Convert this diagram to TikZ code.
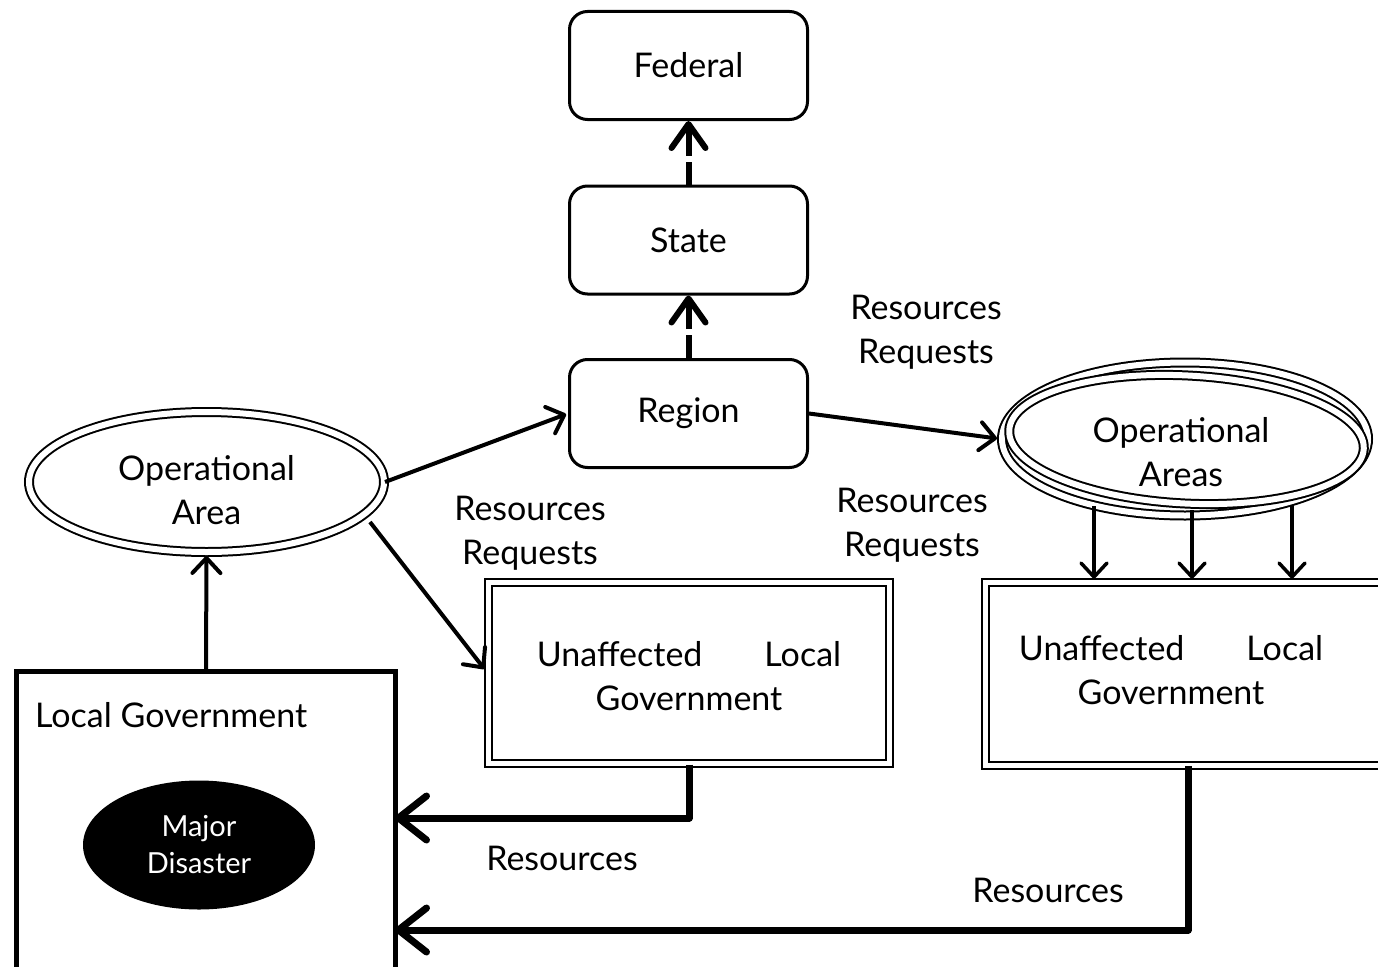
\documentclass[tikz,border=0pt]{standalone}
\usepackage{fontspec}
\setmainfont{Lato}
\usetikzlibrary{shapes.geometric,arrows.meta,calc}
\begin{document}
\begin{tikzpicture}[x=1pt,y=-1pt,
  txt/.style={font=\fontsize{34}{44}\selectfont, align=center, inner sep=0pt},
  rbox/.style={draw, line width=3pt, rounded corners=18pt, minimum width=238pt, minimum height=108pt, inner sep=0pt, font=\fontsize{34}{44}\selectfont},
  oval/.style={draw, ellipse, double, line width=2pt, double distance=6pt, inner sep=0pt},
  dbox/.style={draw, double, line width=2pt, double distance=5pt, inner sep=0pt},
  tarrow/.style={line width=4pt, -{Straight Barb[length=15pt, width=28pt, line cap=round, line join=round]}},
  varrow/.style={line width=3.5pt, -{Straight Barb[length=14pt, width=26pt, line cap=round, line join=round]}},
  darrow/.style={line width=6pt, -{Straight Barb[length=24pt, width=34pt, line cap=round, line join=round]}},
  barrow/.style={line width=7pt, line join=round, -{Straight Barb[length=28pt, width=44pt, line cap=round, line join=round]}},
]
\useasboundingbox (0,0) rectangle (1378,966);

% top hierarchy
\node[rbox] (federal) at (688.5,65.5) {Federal};
\node[rbox] (state) at (688.5,240) {State};
\node[rbox] (region) at (688.5,413.5) {Region};

% dashed thick up arrows
\coordinate (sg) at ($(state.north)+(0,-23)$);
\coordinate (rg) at ($(region.north)+(0,-23)$);
\draw[line width=6pt] (state.north) -- (sg);
\draw[darrow] ($(sg)+(0,-6)$) -- (federal.south);
\draw[line width=6pt] (region.north) -- (rg);
\draw[darrow] ($(rg)+(0,-6)$) -- (state.south);

% operational area (left)
\node[oval, minimum width=355pt, minimum height=140pt] (oa) at (206.5,482) {};
\node[txt] (oat) at (206.5,490) {Operational\\Area};

% operational areas (right)
\node[oval, minimum width=366pt, minimum height=153pt] (opas) at (1185,439) {};
\node[oval, minimum width=355pt, minimum height=128pt, rotate=-3] (opasb) at (1186.5,439.5) {};
\node[txt] (opast) at (1181,452) {Operational\\Areas};

% unaffected boxes
\node[dbox, minimum width=401pt, minimum height=181pt] (u1) at (689,673) {};
\node[txt] (u1t) at (689,676) {Unaffected\hspace{62pt}Local\\Government};
\node[dbox, minimum width=420pt, minimum height=182.5pt] (u2) at (1195,674) {};
\node[txt] (u2t) at (1171,670) {Unaffected\hspace{62pt}Local\\Government};

% local government
\node[draw, line width=5pt, minimum width=379pt, minimum height=345pt, inner sep=0pt] (lg) at (206,844) {};
\node[txt, anchor=west] (lgt) at (35,715) {Local Government};
\node[ellipse, fill=black, minimum width=232pt, minimum height=129pt, inner sep=0pt,
      text=white, font=\fontsize{29}{37}\selectfont, align=center] (md) at (199,845) {Major\\Disaster};

% labels
\node[txt] (rr1) at (926,332) {Resources\\Requests};
\node[txt] (rr2) at (530,533) {Resources\\Requests};
\node[txt] (rr3) at (912,525) {Resources\\Requests};
\node[txt] (res1) at (562,858) {Resources};
\node[txt] (res2) at (1048,890) {Resources};

% connectors
\coordinate (oas) at ($(oa.center)+(163.5,40)$);
\draw[tarrow, shorten >=3pt] (lg.north) -- (oa.south);
\draw[tarrow, shorten >=2pt] (oa.east) -- (region.west);
\draw[tarrow, shorten >=5pt] (oas) -- (u1.west);
\draw[tarrow, shorten >=4pt] (region.east) -- (opas.west);

\coordinate (d1) at (1094,506);
\coordinate (d2) at (1192,510);
\coordinate (d3) at (1292,506);
\draw[varrow, shorten >=3pt] (d1) -- (d1 |- u2.north);
\draw[varrow, shorten >=3pt] (d2) -- (d2 |- u2.north);
\draw[varrow, shorten >=3pt] (d3) -- (d3 |- u2.north);

\draw[barrow, shorten >=-3pt] (u1.south) |- (lg.east |- 0,818);
\draw[barrow, shorten >=-3pt] (u2.south -| 1188,0) |- (lg.east |- 0,930);
\end{tikzpicture}
\end{document}
